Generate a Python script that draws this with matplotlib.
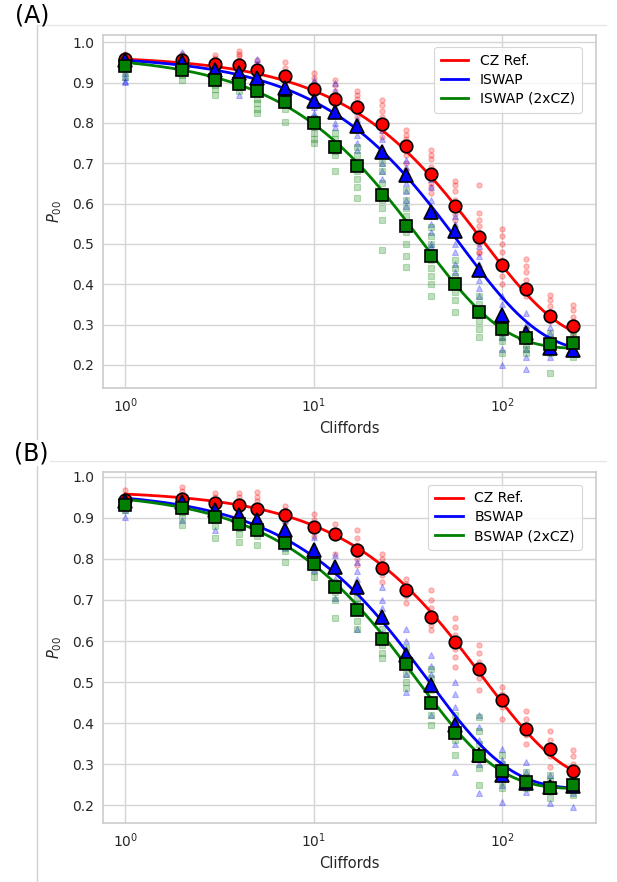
import numpy as np
import matplotlib
matplotlib.use("Agg")
import matplotlib.pyplot as plt
from matplotlib.lines import Line2D

# ---------------- data ----------------
cliffords = [1, 2, 3, 4, 5, 7, 10, 13, 17, 23, 31, 42, 56, 75, 100, 133, 178, 237]

# Panel A means
a_cz_mean = [0.958, 0.955, 0.947, 0.944, 0.930, 0.917, 0.884, 0.859, 0.839, 0.798,
             0.743, 0.673, 0.593, 0.517, 0.448, 0.389, 0.322, 0.297]
a_iswap_mean = [0.955, 0.950, 0.930, 0.923, 0.911, 0.886, 0.855, 0.827, 0.793, 0.729,
                0.671, 0.578, 0.531, 0.436, 0.324, 0.278, 0.242, 0.237]
a_iswap2_mean = [0.940, 0.931, 0.907, 0.897, 0.878, 0.853, 0.799, 0.741, 0.692, 0.621,
                 0.545, 0.470, 0.401, 0.330, 0.288, 0.266, 0.252, 0.254]

# Panel B means
b_cz_mean = [0.943, 0.946, 0.937, 0.931, 0.921, 0.908, 0.878, 0.860, 0.821, 0.777,
             0.724, 0.659, 0.598, 0.531, 0.456, 0.385, 0.337, 0.284]
b_bswap_mean = [0.940, 0.939, 0.919, 0.907, 0.894, 0.870, 0.821, 0.781, 0.732, 0.659,
                0.567, 0.494, 0.395, 0.322, 0.274, 0.255, 0.245, 0.247]
b_bswap2_mean = [0.931, 0.925, 0.903, 0.886, 0.870, 0.840, 0.787, 0.731, 0.675, 0.604,
                 0.543, 0.448, 0.375, 0.321, 0.283, 0.257, 0.243, 0.249]

# Individual random sequences (visible points per Clifford length)
a_cz_pts = [
    [0.972, 0.965, 0.960, 0.955, 0.950], [0.970, 0.962, 0.955, 0.950],
    [0.968, 0.960, 0.952, 0.945, 0.940], [0.979, 0.972, 0.965, 0.955, 0.945, 0.940],
    [0.955, 0.945, 0.935, 0.930, 0.925], [0.950, 0.935, 0.925, 0.915, 0.905],
    [0.923, 0.912, 0.900, 0.890, 0.880, 0.870], [0.907, 0.895, 0.880, 0.870, 0.860, 0.850, 0.845],
    [0.880, 0.870, 0.860, 0.850, 0.840, 0.830, 0.815],
    [0.857, 0.845, 0.830, 0.815, 0.800, 0.790, 0.780, 0.766],
    [0.783, 0.770, 0.760, 0.750, 0.740, 0.730, 0.720, 0.700, 0.684],
    [0.733, 0.720, 0.710, 0.690, 0.680, 0.665, 0.650, 0.640, 0.626],
    [0.656, 0.645, 0.630, 0.610, 0.600, 0.590, 0.575, 0.560],
    [0.646, 0.576, 0.560, 0.545, 0.530, 0.515, 0.500, 0.480, 0.477],
    [0.536, 0.520, 0.500, 0.480, 0.460, 0.440, 0.420, 0.400],
    [0.462, 0.445, 0.430, 0.410, 0.390, 0.370],
    [0.374, 0.360, 0.345, 0.330, 0.320, 0.310],
    [0.349, 0.335, 0.320, 0.310, 0.300, 0.290, 0.280],
]
a_iswap_pts = [
    [0.948, 0.935, 0.925, 0.915, 0.905, 0.902], [0.977, 0.965, 0.955, 0.945, 0.935],
    [0.952, 0.940, 0.930, 0.920, 0.907], [0.952, 0.940, 0.925, 0.910, 0.895, 0.870],
    [0.958, 0.945, 0.930, 0.920, 0.910, 0.898], [0.910, 0.900, 0.890, 0.878],
    [0.907, 0.890, 0.870, 0.855, 0.840, 0.825, 0.816],
    [0.898, 0.880, 0.860, 0.840, 0.820, 0.800, 0.790],
    [0.850, 0.830, 0.810, 0.790, 0.770, 0.750, 0.733],
    [0.783, 0.760, 0.740, 0.720, 0.700, 0.680, 0.660],
    [0.708, 0.690, 0.670, 0.650, 0.630, 0.610, 0.593],
    [0.660, 0.640, 0.610, 0.590, 0.570, 0.550, 0.530, 0.500, 0.493],
    [0.593, 0.570, 0.550, 0.530, 0.500, 0.480, 0.450, 0.430, 0.400],
    [0.494, 0.470, 0.450, 0.430, 0.410, 0.390, 0.370, 0.340],
    [0.370, 0.350, 0.330, 0.310, 0.290, 0.270, 0.240, 0.200],
    [0.328, 0.300, 0.280, 0.260, 0.240, 0.220, 0.190],
    [0.295, 0.280, 0.265, 0.250, 0.235, 0.220],
    [0.270, 0.260, 0.250, 0.240, 0.230, 0.228],
]
a_iswap2_pts = [
    [0.948, 0.940, 0.930, 0.915], [0.940, 0.930, 0.920, 0.907],
    [0.919, 0.905, 0.895, 0.885, 0.870], [0.910, 0.900, 0.890, 0.878],
    [0.873, 0.860, 0.850, 0.835, 0.824], [0.873, 0.860, 0.845, 0.835, 0.803],
    [0.812, 0.800, 0.790, 0.775, 0.760, 0.750],
    [0.774, 0.760, 0.740, 0.730, 0.720, 0.680],
    [0.741, 0.720, 0.700, 0.680, 0.660, 0.640, 0.613],
    [0.700, 0.680, 0.650, 0.630, 0.610, 0.590, 0.560, 0.485],
    [0.634, 0.610, 0.590, 0.570, 0.550, 0.530, 0.500, 0.470, 0.444],
    [0.543, 0.520, 0.500, 0.480, 0.460, 0.440, 0.420, 0.400, 0.370],
    [0.460, 0.440, 0.420, 0.400, 0.380, 0.360, 0.330],
    [0.370, 0.350, 0.330, 0.310, 0.290, 0.270],
    [0.310, 0.300, 0.280, 0.270, 0.260, 0.230],
    [0.287, 0.270, 0.260, 0.250, 0.240, 0.230],
    [0.280, 0.265, 0.250, 0.240, 0.230, 0.180],
    [0.287, 0.270, 0.260, 0.250, 0.240, 0.220],
]
b_cz_pts = [
    [0.968, 0.955, 0.945, 0.940], [0.976, 0.965, 0.955, 0.945],
    [0.960, 0.950, 0.940, 0.928], [0.960, 0.950, 0.940, 0.930, 0.920],
    [0.962, 0.950, 0.940, 0.930, 0.920], [0.930, 0.920, 0.910, 0.890],
    [0.910, 0.895, 0.880, 0.870, 0.855], [0.886, 0.870, 0.860, 0.850, 0.811],
    [0.870, 0.850, 0.835, 0.820, 0.800, 0.785],
    [0.813, 0.800, 0.790, 0.775, 0.760, 0.744],
    [0.752, 0.740, 0.725, 0.710, 0.692],
    [0.724, 0.700, 0.680, 0.660, 0.640, 0.627],
    [0.655, 0.635, 0.615, 0.600, 0.580, 0.560, 0.537],
    [0.590, 0.570, 0.550, 0.530, 0.510, 0.480],
    [0.489, 0.470, 0.455, 0.440, 0.410],
    [0.430, 0.410, 0.390, 0.370, 0.350],
    [0.380, 0.360, 0.340, 0.320, 0.294],
    [0.334, 0.320, 0.300, 0.290, 0.278],
]
b_bswap_pts = [
    [0.948, 0.935, 0.920, 0.903], [0.951, 0.940, 0.925, 0.895],
    [0.940, 0.925, 0.910, 0.870], [0.930, 0.915, 0.900, 0.878],
    [0.930, 0.915, 0.900, 0.862], [0.894, 0.870, 0.850, 0.826],
    [0.854, 0.835, 0.810, 0.773], [0.810, 0.780, 0.750, 0.704],
    [0.793, 0.770, 0.750, 0.720, 0.690, 0.630],
    [0.732, 0.700, 0.680, 0.650, 0.620, 0.598],
    [0.630, 0.600, 0.580, 0.550, 0.520, 0.476],
    [0.566, 0.540, 0.520, 0.490, 0.460, 0.420],
    [0.500, 0.470, 0.440, 0.410, 0.380, 0.350, 0.282],
    [0.420, 0.390, 0.360, 0.330, 0.300, 0.229],
    [0.338, 0.310, 0.290, 0.270, 0.250, 0.209],
    [0.306, 0.280, 0.260, 0.250, 0.233],
    [0.273, 0.260, 0.245, 0.235, 0.205],
    [0.273, 0.260, 0.245, 0.230, 0.196],
]
b_bswap2_pts = [
    [0.947, 0.940, 0.930, 0.919], [0.931, 0.915, 0.900, 0.882],
    [0.915, 0.900, 0.880, 0.850], [0.890, 0.875, 0.860, 0.842],
    [0.882, 0.870, 0.855, 0.834], [0.846, 0.830, 0.820, 0.793],
    [0.793, 0.780, 0.770, 0.757], [0.744, 0.720, 0.700, 0.655],
    [0.704, 0.690, 0.670, 0.650, 0.630],
    [0.630, 0.610, 0.590, 0.570, 0.558],
    [0.582, 0.560, 0.540, 0.520, 0.500, 0.485],
    [0.533, 0.510, 0.480, 0.450, 0.420, 0.395],
    [0.420, 0.400, 0.380, 0.360, 0.322],
    [0.415, 0.380, 0.350, 0.320, 0.290, 0.250],
    [0.322, 0.300, 0.280, 0.260, 0.241],
    [0.282, 0.270, 0.260, 0.250, 0.241],
    [0.273, 0.260, 0.250, 0.240, 0.217],
    [0.282, 0.270, 0.255, 0.245, 0.225],
]

# Decay fit parameters  P = A * p**m + B
a_fit = {"cz": (0.7173, 0.9871, 0.250), "iswap": (0.7373, 0.9833, 0.230), "iswap2": (0.7294, 0.9734, 0.240)}
b_fit = {"cz": (0.7171, 0.9873, 0.250), "bswap": (0.7260, 0.9753, 0.240), "bswap2": (0.7254, 0.9719, 0.240)}

labels_a = ["CZ Ref.", "ISWAP", "ISWAP (2xCZ)"]
labels_b = ["CZ Ref.", "BSWAP", "BSWAP (2xCZ)"]
colors = ["red", "blue", "green"]
markers = ["o", "^", "s"]
xticks = [1, 10, 100]
yticks = [0.2, 0.3, 0.4, 0.5, 0.6, 0.7, 0.8, 0.9, 1.0]

# ---------------- style ----------------
plt.rcParams["font.family"] = ["DejaVu Sans"]
plt.rcParams["font.size"] = 10

fig = plt.figure(figsize=(6.17, 8.82), dpi=100)
W, H = 617, 882

def px_axes(x0, y0, x1, y1):
    return fig.add_axes([x0 / W, 1 - y1 / H, (x1 - x0) / W, (y1 - y0) / H])

def draw_panel(ax, means, pts, fits, labels, ylim):
    ax.set_facecolor("white")
    ax.set_xscale("log")
    mgrid = np.geomspace(cliffords[0], cliffords[-1], 300)
    handles = []
    for mean, pset, fit, lab, col, mk in zip(means, pts, fits, labels, colors, markers):
        xs, ys = [], []
        for c, vals in zip(cliffords, pset):
            xs += [c] * len(vals)
            ys += vals
        ax.plot(xs, ys, linestyle="none", marker=mk, ms=3.8, color=col, alpha=0.25,
                markeredgewidth=0.8, zorder=2)
        A, p, B = fit
        ln, = ax.plot(mgrid, A * p ** mgrid + B, color=col, lw=2, zorder=3, label=lab)
        ax.plot(cliffords, mean, linestyle="none", marker=mk, ms=9 if mk != "^" else 9.5,
                color=col, markeredgecolor="black", markeredgewidth=1.2, zorder=4)
        handles.append(ln)
    ax.set_xlim(0.759, 314)
    ax.set_ylim(*ylim)
    ax.set_xticks(xticks)
    ax.set_yticks(yticks)
    ax.set_yticklabels([f"{v:.1f}" for v in yticks])
    ax.minorticks_off()
    ax.grid(True, color="#d5d5d5", lw=1.0)
    ax.set_axisbelow(True)
    for s in ax.spines.values():
        s.set_color("#cccccc")
        s.set_linewidth(1.2)
    ax.tick_params(length=0, labelsize=10, colors="#262626", pad=6)
    ax.set_xlabel("Cliffords", fontsize=10.5, color="#262626", labelpad=4)
    ax.set_ylabel("$P_{00}$", fontsize=10.5, color="#262626", labelpad=6)
    leg = ax.legend(handles=handles, loc="upper right", fontsize=10, frameon=True,
                    fancybox=True, borderpad=0.5, handlelength=2.0, labelspacing=0.35,
                    bbox_to_anchor=(0.985, 0.985))
    leg.get_frame().set_edgecolor("#cccccc")
    leg.get_frame().set_linewidth(0.8)

axA = px_axes(102.7, 35, 596, 388.3)
draw_panel(axA, [a_cz_mean, a_iswap_mean, a_iswap2_mean],
           [a_cz_pts, a_iswap_pts, a_iswap2_pts],
           [a_fit["cz"], a_fit["iswap"], a_fit["iswap2"]], labels_a, (0.142, 1.018))

axB = px_axes(102.7, 472.3, 596, 823.3)
draw_panel(axB, [b_cz_mean, b_bswap_mean, b_bswap2_mean],
           [b_cz_pts, b_bswap_pts, b_bswap2_pts],
           [b_fit["cz"], b_fit["bswap"], b_fit["bswap2"]], labels_b, (0.156, 1.011))

# surrounding frame lines of the composite figure
frame_col = "#d0d0d0"
fig.add_artist(Line2D([37 / W, 37 / W], [0, 1 - 25 / H], transform=fig.transFigure, color=frame_col, lw=1))
fig.add_artist(Line2D([37 / W, 606 / W], [1 - 25 / H, 1 - 25 / H], transform=fig.transFigure, color="#e6e6e6", lw=1))
fig.add_artist(Line2D([37 / W, 606 / W], [1 - 461 / H, 1 - 461 / H], transform=fig.transFigure, color="#e6e6e6", lw=1))

fig.text(15 / W, 1 - 15 / H, "(A)", fontsize=17, va="center", ha="left", color="black")
fig.text(14 / W, 1 - 453 / H, "(B)", fontsize=17, va="center", ha="left", color="black",
         bbox=dict(facecolor="white", edgecolor="none", pad=1))

fig.savefig("out.png", dpi=100, facecolor="white")
